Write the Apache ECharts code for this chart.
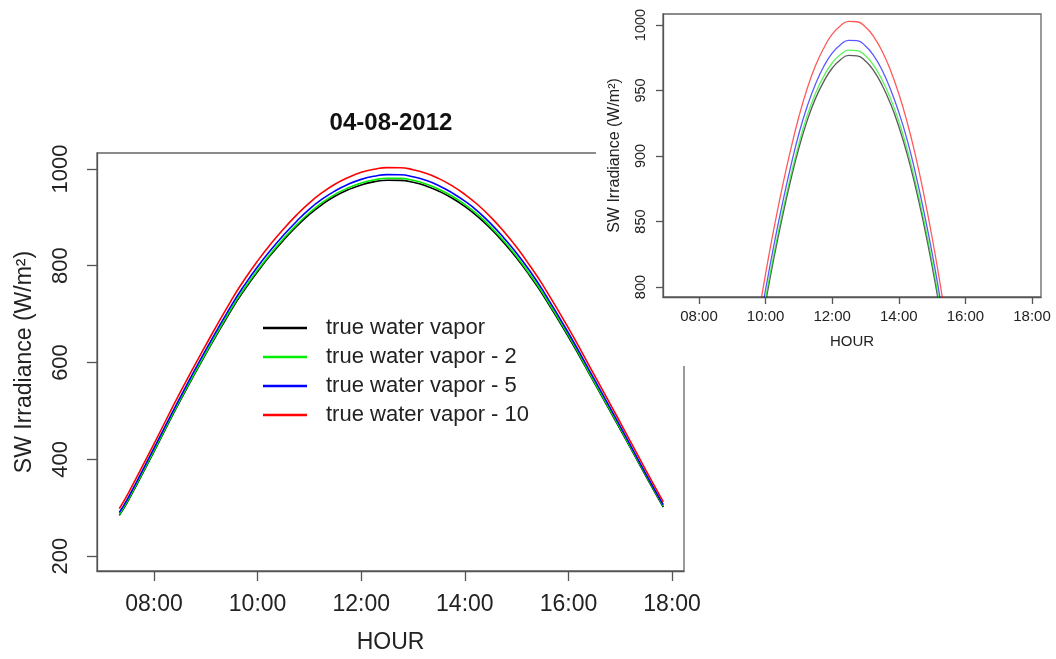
<!DOCTYPE html>
<html lang="en">
  <head>
    <meta charset="utf-8" />
    <script src="https://cdn.jsdelivr.net/npm/echarts@6.0.0/dist/echarts.min.js"></script>
    <style>
      html, body {
        height: 100%;
        padding: 0;
        margin: 0;
        background: #fff;
      }
      #chart {
        width: 1056px;
        height: 659px;
      }
    </style>
  </head>
  <body>
    <div id="chart"></div>
    <script>
      // hours of the day (decimal) and irradiance
      var hours = [7.33, 7.5, 8, 8.5, 9, 9.5, 9.75, 10, 10.25, 10.5, 10.75, 11, 11.25, 11.5, 11.75, 12, 12.25, 12.5,
        12.75, 13, 13.25, 13.5, 13.75, 14, 14.25, 14.5, 14.75, 15, 15.25, 15.5, 16, 16.5, 17, 17.5, 17.83];
      var trueVapor = [284, 314, 416, 520, 618, 710, 751, 788, 822, 853, 881, 906, 927, 944, 957, 967, 973.5, 976.8,
        976.5, 972.5, 965, 954, 940, 922.5, 901.5, 876.5, 848, 816, 780, 741, 653, 558, 462, 364, 301];
      var vaporMinus2 = [286, 316, 418, 522, 620, 713, 754, 791, 825, 856, 884.5, 909.5, 931, 948, 961, 971, 977.5, 980.8,
        980.5, 976.5, 969, 958, 944, 926.5, 905.5, 880, 851.5, 819, 783, 744, 656, 560, 464, 366, 303];
      var vaporMinus5 = [290, 320, 423, 527, 626, 719, 760.5, 798, 832, 863, 891.5, 917, 938, 955, 968.5, 978.5, 985, 988.3,
        988, 984, 976.5, 965.5, 951, 933.5, 912.5, 887, 858, 826, 790, 750, 661, 565, 468, 369, 306];
      var vaporMinus10 = [298, 329, 432, 537, 636, 730, 772, 810, 844.5, 876, 904.5, 930, 951.5, 969, 982.5, 993, 999.5, 1002.8,
        1002.5, 998.5, 991, 980, 965.5, 947.5, 926, 900.5, 871, 838, 801, 761, 671, 574, 476, 376, 312];

      var names = ['true water vapor', 'true water vapor - 2', 'true water vapor - 5', 'true water vapor - 10'];
      var colors = ['#000000', '#00ee00', '#0000ff', '#ff0000'];
      var values = [trueVapor, vaporMinus2, vaporMinus5, vaporMinus10];

      var hourTicks = [8, 10, 12, 14, 16, 18];
      var mainTicks = [200, 400, 600, 800, 1000];
      var insetTicks = [800, 850, 900, 950, 1000];

      var font = '"Liberation Sans", Arial, sans-serif';
      var axisColor = '#555';

      function hhmm(v) {
        var h = Math.floor(v + 1e-6);
        var m = Math.round((v - h) * 60);
        return (h < 10 ? '0' : '') + h + ':' + (m < 10 ? '0' : '') + m;
      }

      function pairs(arr) {
        return hours.map(function (h, i) { return [h, arr[i]]; });
      }

      function xAxisFor(grid, min, max, size, margin, gap, z) {
        return {
          type: 'value', gridIndex: grid, min: min, max: max, z: z,
          name: 'HOUR', nameLocation: 'middle', nameGap: gap,
          nameTextStyle: { fontFamily: font, fontSize: size, color: '#222' },
          splitLine: { show: false },
          axisLine: { lineStyle: { color: axisColor, width: 1.3 } },
          axisTick: { customValues: hourTicks, length: grid ? 7 : 10, lineStyle: { color: axisColor, width: 1.3 } },
          axisLabel: { customValues: hourTicks, formatter: hhmm, margin: margin, fontFamily: font, fontSize: size, color: '#222' }
        };
      }

      function yAxisFor(grid, min, max, ticks, size, nameSize, margin, gap, z) {
        return {
          type: 'value', gridIndex: grid, min: min, max: max, z: z,
          name: 'SW Irradiance (W/m²)', nameLocation: 'middle', nameGap: gap,
          nameTextStyle: { fontFamily: font, fontSize: nameSize, color: '#222' },
          splitLine: { show: false },
          axisLine: { lineStyle: { color: axisColor, width: 1.3 } },
          axisTick: { customValues: ticks, length: grid ? 7 : 10, lineStyle: { color: axisColor, width: 1.3 } },
          axisLabel: {
            customValues: ticks, rotate: 90, margin: margin, fontFamily: font, fontSize: size, color: '#222',
            formatter: function (v) { return String(v); }
          }
        };
      }

      var series = [];
      values.forEach(function (arr, i) {
        series.push({
          name: names[i], type: 'line', xAxisIndex: 0, yAxisIndex: 0,
          data: pairs(arr), smooth: true, showSymbol: false, z: 3,
          lineStyle: { color: colors[i], width: 1.6 }, itemStyle: { color: colors[i] }
        });
      });
      values.forEach(function (arr, i) {
        series.push({
          name: names[i], type: 'line', xAxisIndex: 1, yAxisIndex: 1,
          data: pairs(arr), smooth: true, showSymbol: false, z: 13, clip: true,
          lineStyle: { color: colors[i], width: 1.3, opacity: 0.65 }, itemStyle: { color: colors[i] }
        });
      });

      var chart = echarts.init(document.getElementById('chart'));
      chart.setOption({
        animation: false,
        backgroundColor: '#fff',
        graphic: [
          { type: 'rect', z: 10, shape: { x: 596, y: 0, width: 460, height: 366 }, style: { fill: '#fff' } },
          { type: 'text', z: 10, x: 391, y: 123,
            style: { text: '04-08-2012', fontFamily: font, fontSize: 24, fontWeight: 'bold', fill: '#111', textAlign: 'center', textVerticalAlign: 'middle' } }
        ],
        legend: {
          data: names, orient: 'vertical', left: 258, top: 312,
          icon: 'rect', itemWidth: 44, itemHeight: 2.5, itemGap: 7,
          textStyle: { fontFamily: font, fontSize: 22, color: '#222', lineHeight: 20, padding: [0, 0, 0, 14] }
        },
        grid: [
          { left: 97, top: 153, right: 372, bottom: 87, show: true, borderColor: '#666', borderWidth: 1.3, z: 0 },
          { left: 663, top: 14, right: 15, bottom: 362, show: true, borderColor: '#666', borderWidth: 1.3, z: 11 }
        ],
        xAxis: [
          xAxisFor(0, 6.9, 18.23, 23, 22, 60, 1),
          xAxisFor(1, 6.92, 18.27, 15, 12, 37, 11)
        ],
        yAxis: [
          yAxisFor(0, 169.1, 1033, mainTicks, 22, 23, 25, 61, 1),
          yAxisFor(1, 792.4, 1008.4, insetTicks, 14.5, 16, 15, 40, 11)
        ],
        series: series
      });
    </script>
  </body>
</html>
